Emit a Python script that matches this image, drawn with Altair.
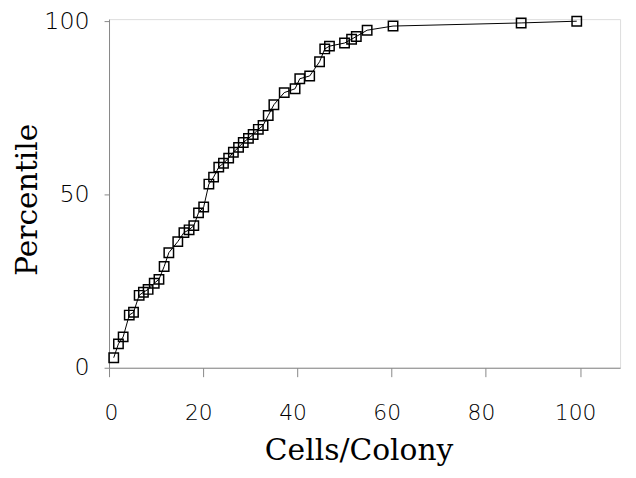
import altair as alt
import pandas as pd

cells = [1.0, 2.0, 3.0, 4.3, 5.2, 6.4, 7.3, 8.3, 9.6, 10.6, 11.7, 12.7, 14.6, 15.9,
         17.0, 18.0, 19.0, 20.1, 21.2, 22.2, 23.3, 24.3, 25.4, 26.4, 27.5, 28.5,
         29.6, 30.6, 31.7, 32.7, 33.8, 35.0, 37.2, 39.5, 40.5, 42.6, 44.7, 45.8,
         46.8, 50.0, 51.5, 52.5, 54.8, 60.3, 87.5, 99.3]
pct = [2.9, 6.9, 8.9, 15.2, 16.0, 20.9, 21.8, 22.6, 24.4, 25.5, 29.2, 33.2, 36.4,
       39.0, 39.8, 41.0, 44.7, 46.4, 53.0, 55.0, 57.9, 59.0, 60.5, 62.2, 63.6,
       65.0, 66.2, 67.3, 68.8, 69.9, 72.8, 75.9, 79.4, 80.5, 83.4, 84.2, 88.3,
       92.0, 92.8, 93.7, 94.8, 95.6, 97.4, 98.6, 99.5, 100.0]
x_ticks = [0, 20, 40, 60, 80, 100]
y_ticks = [0, 50, 100]

df = pd.DataFrame({"cells": cells, "pct": pct, "order": list(range(len(cells)))})

x = alt.X(
    "cells:Q",
    scale=alt.Scale(domain=[0, 108.5], nice=False, zero=False),
    axis=alt.Axis(
        values=x_ticks, title="Cells/Colony", grid=False,
        tickSize=9, labelPadding=36, labelBaseline="middle", labelOffset=-5,
        labelFont="DejaVu Sans", labelFontSize=22, labelFontWeight=200,
        titleFont="DejaVu Serif", titleFontSize=30, titleFontWeight="normal",
        titleX=252, titleY=93, titleBaseline="alphabetic", titleAlign="center",
    ),
)
y = alt.Y(
    "pct:Q",
    scale=alt.Scale(domain=[0, 100.6], nice=False, zero=False),
    axis=alt.Axis(
        values=y_ticks, title="Percentile", grid=False,
        tickSize=5, labelPadding=15,
        labelFont="DejaVu Sans", labelFontSize=24, labelFontWeight=200,
        titleFont="DejaVu Serif", titleFontSize=30, titleFontWeight="normal",
        titleX=-73, titleY=182, titleBaseline="alphabetic", titleAlign="center",
        titleAngle=270,
    ),
)

base = alt.Chart(df).encode(x=x, y=y, order="order:Q")
line = base.mark_line(color="black", strokeWidth=1)
pts = base.mark_point(shape="square", filled=False, size=90, color="black", strokeWidth=1.5, opacity=1)

chart = (
    alt.layer(line, pts)
    .properties(
        width=516, height=352,
        autosize=alt.AutoSizeParams(type="none"),
        padding={"left": 102, "top": 9, "right": 8, "bottom": 100},
    )
    .configure_view(stroke="black", strokeWidth=1)
    .configure_axis(domainColor="black", tickColor="black", labelColor="black", titleColor="black",
                    domainWidth=1, tickWidth=1)
    .configure(background="white")
)

chart.save("out.html", embed_options={"renderer": "svg", "actions": False})
